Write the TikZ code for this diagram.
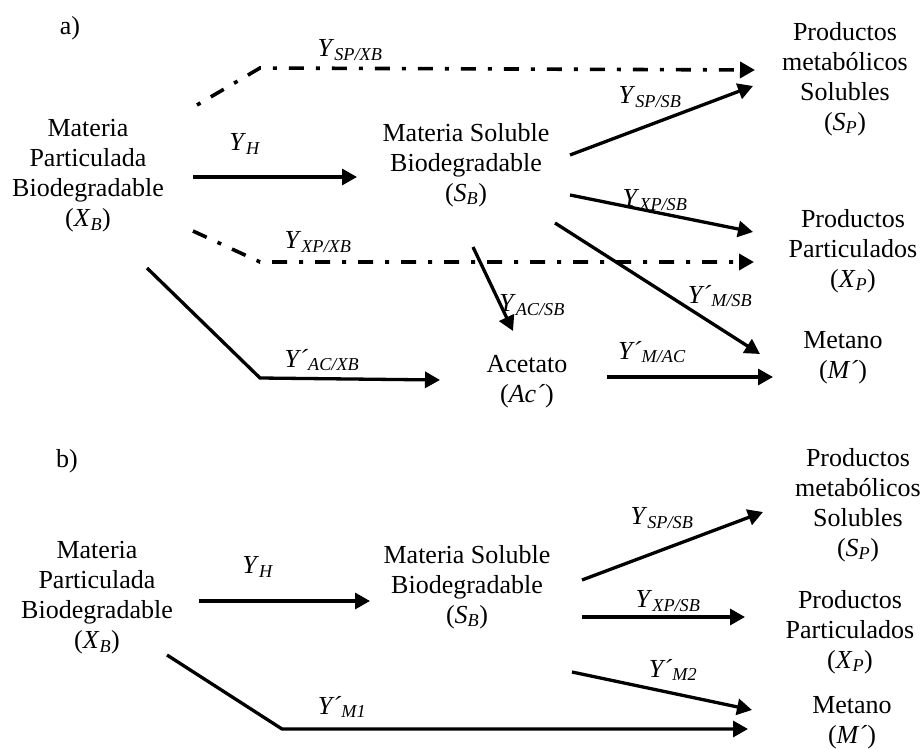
\documentclass[tikz,border=0pt]{standalone}
\usepackage{fontspec}
\setmainfont{Liberation Serif}
\usetikzlibrary{arrows.meta}
\newcommand{\Ysb}[2]{\textit{#1}\textsubscript{\textit{#2}}}
\begin{document}
\begin{tikzpicture}[x=1pt,y=-1pt,
  txt/.style={align=center,font=\fontsize{26}{30}\selectfont,inner sep=0pt},
  lbl/.style={font=\fontsize{26}{30}\selectfont,inner sep=0pt},
  arr/.style={line width=3.3pt,-{Triangle[length=15pt,width=16pt]}},
  seg/.style={line width=3.3pt},
  dd/.style={line width=3.6pt,dash pattern=on 15pt off 12pt on 4pt off 12pt,-{Triangle[length=15pt,width=16pt]}}]
\useasboundingbox (0,0) rectangle (922,749);
% ---------------- a) ----------------
\node[lbl] (la) at (70,28) {a)};
\node[txt] (aXB) at (88,176) {Materia\\Particulada\\Biodegradable\\(\Ysb{X}{B})};
\node[txt] (aSB) at (466,165) {Materia Soluble\\Biodegradable\\(\Ysb{S}{B})};
\node[txt] (aSP) at (845,79) {Productos\\metabólicos\\Solubles\\(\Ysb{S}{P})};
\node[txt] (aXP) at (853,251) {Productos\\Particulados\\(\Ysb{X}{P})};
\node[txt] (aM) at (843,358) {Metano\\(\textit{M´})};
\node[txt] (aAc) at (527,382) {Acetato\\(\textit{Ac´})};
% coordinates
\coordinate (a1s) at (197,105); \coordinate (a1c) at (260,68); \coordinate (a1e) at (755,70);
\coordinate (a2s) at (193,177); \coordinate (a2e) at (357,177);
\coordinate (a3s) at (193,231); \coordinate (a3c) at (260,262); \coordinate (a3e) at (754,262);
\coordinate (a4s) at (147,268); \coordinate (a4c) at (260,378); \coordinate (a4e) at (440,380);
\coordinate (a5s) at (570,155); \coordinate (a5e) at (753,86);
\coordinate (a6s) at (570,195); \coordinate (a6e) at (753,232);
\coordinate (a7s) at (555,223); \coordinate (a7e) at (760,354);
\coordinate (a8s) at (473,247); \coordinate (a8e) at (513,331);
\coordinate (a9s) at (607,377); \coordinate (a9e) at (773,377);
\draw[dd,dash phase=27pt] (a1s) -- (a1c) -- (a1e);
\draw[arr] (a2s) -- (a2e);
\draw[dd] (a3s) -- (a3c) -- (a3e);
\draw[arr] (a4s) -- (a4c) -- (a4e);
\draw[arr] (a5s) -- (a5e);
\draw[arr] (a6s) -- (a6e);
\draw[arr] (a7s) -- (a7e);
\draw[arr] (a8s) -- (a8e);
\draw[arr] (a9s) -- (a9e);
\node[lbl] (ya1) at (350,50) {\Ysb{Y}{SP/XB}};
\node[lbl] (ya2) at (245,144) {\Ysb{Y}{H}};
\node[lbl] (ya3) at (318,242) {\Ysb{Y}{XP/XB}};
\node[lbl] (ya4) at (322,360) {\Ysb{Y´}{AC/XB}};
\node[lbl] (ya5) at (650,97) {\Ysb{Y}{SP/SB}};
\node[lbl] (ya6) at (655,200) {\Ysb{Y}{XP/SB}};
\node[lbl] (ya7) at (720,296) {\Ysb{Y´}{M/SB}};
\node[lbl] (ya8) at (532,305) {\Ysb{Y}{AC/SB}};
\node[lbl] (ya9) at (652,352) {\Ysb{Y´}{M/AC}};
% ---------------- b) ----------------
\node[lbl] (lb) at (67,461) {b)};
\node[txt] (bXB) at (97,598) {Materia\\Particulada\\Biodegradable\\(\Ysb{X}{B})};
\node[txt] (bSB) at (467,587) {Materia Soluble\\Biodegradable\\(\Ysb{S}{B})};
\node[txt] (bSP) at (858,505) {Productos\\metabólicos\\Solubles\\(\Ysb{S}{P})};
\node[txt] (bXP) at (850,632) {Productos\\Particulados\\(\Ysb{X}{P})};
\node[txt] (bM) at (852,723) {Metano\\(\textit{M´})};
\coordinate (b1s) at (199,601); \coordinate (b1e) at (370,601);
\coordinate (b2s) at (167,655); \coordinate (b2c) at (282,729); \coordinate (b2e) at (748,729);
\coordinate (b3s) at (582,580); \coordinate (b3e) at (763,512);
\coordinate (b4s) at (582,617); \coordinate (b4e) at (745,617);
\coordinate (b5s) at (572,672); \coordinate (b5e) at (752,710);
\draw[arr] (b1s) -- (b1e);
\draw[arr] (b2s) -- (b2c) -- (b2e);
\draw[arr] (b3s) -- (b3e);
\draw[arr] (b4s) -- (b4e);
\draw[arr] (b5s) -- (b5e);
\node[lbl] (yb1) at (258,567) {\Ysb{Y}{H}};
\node[lbl] (yb2) at (342,707) {\Ysb{Y´}{M1}};
\node[lbl] (yb3) at (662,518) {\Ysb{Y}{SP/SB}};
\node[lbl] (yb4) at (668,601) {\Ysb{Y}{XP/SB}};
\node[lbl] (yb5) at (673,670) {\Ysb{Y´}{M2}};
\end{tikzpicture}
\end{document}
